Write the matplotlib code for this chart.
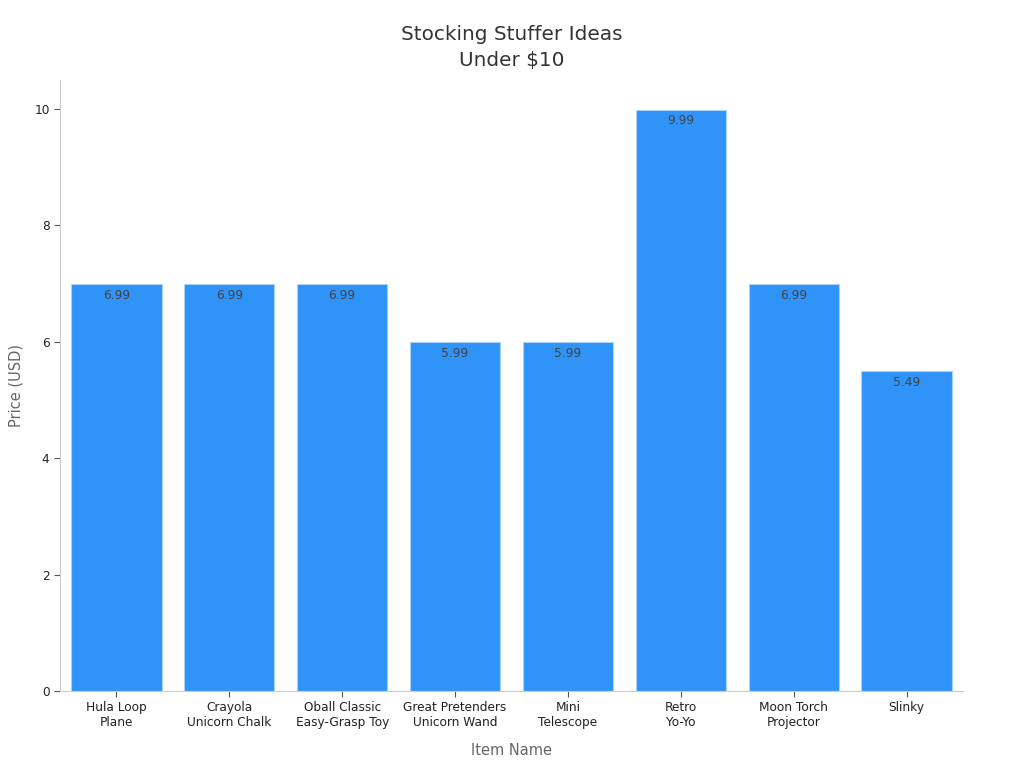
import numpy as np
import matplotlib.pyplot as plt

# ---------------------------
# 数据
# ---------------------------
items = ["Hula Loop\nPlane", "Crayola\nUnicorn Chalk", "Oball Classic\nEasy-Grasp Toy",
         "Great Pretenders\nUnicorn Wand", "Mini\nTelescope", "Retro\nYo-Yo",
         "Moon Torch\nProjector", "Slinky"]
prices = [6.99, 6.99, 6.99, 5.99, 5.99, 9.99, 6.99, 5.49]

# ---------------------------
# 绘图
# ---------------------------
fig = plt.figure(figsize=(10.24, 7.68), dpi=100)
ax = fig.add_axes([0.0586, 0.1003, 0.8818, 0.7957])

x = np.arange(len(items))
bars = ax.bar(x, prices, width=0.8, color="#2F93F7", edgecolor="#A9D2FB", linewidth=0.8)

for b, v in zip(bars, prices):
    ax.text(b.get_x() + b.get_width() / 2, v - 0.08, f"{v:.2f}",
            ha="center", va="top", fontsize=8.8, color="#444444")

ax.set_xlim(-0.5, 7.5)
ax.set_ylim(0, 10.5)
ax.set_xticks(x)
ax.set_xticklabels(items, fontsize=8.7, color="#222222")
ax.set_yticks([0, 2, 4, 6, 8, 10])
ax.tick_params(axis="y", labelsize=8.7, colors="#222222")
ax.tick_params(axis="both", color="#555555", length=4)

for side in ["top", "right"]:
    ax.spines[side].set_visible(False)
for side in ["left", "bottom"]:
    ax.spines[side].set_color("#cccccc")

ax.set_xlabel("Item Name", fontsize=10.5, color="#666666", labelpad=10)
ax.set_ylabel("Price (USD)", fontsize=10.5, color="#666666", labelpad=8)
ax.set_title("Stocking Stuffer Ideas\nUnder $10", fontsize=14.4, color="#333333",
             pad=10, linespacing=1.45)

fig.savefig("out.png", dpi=100)
